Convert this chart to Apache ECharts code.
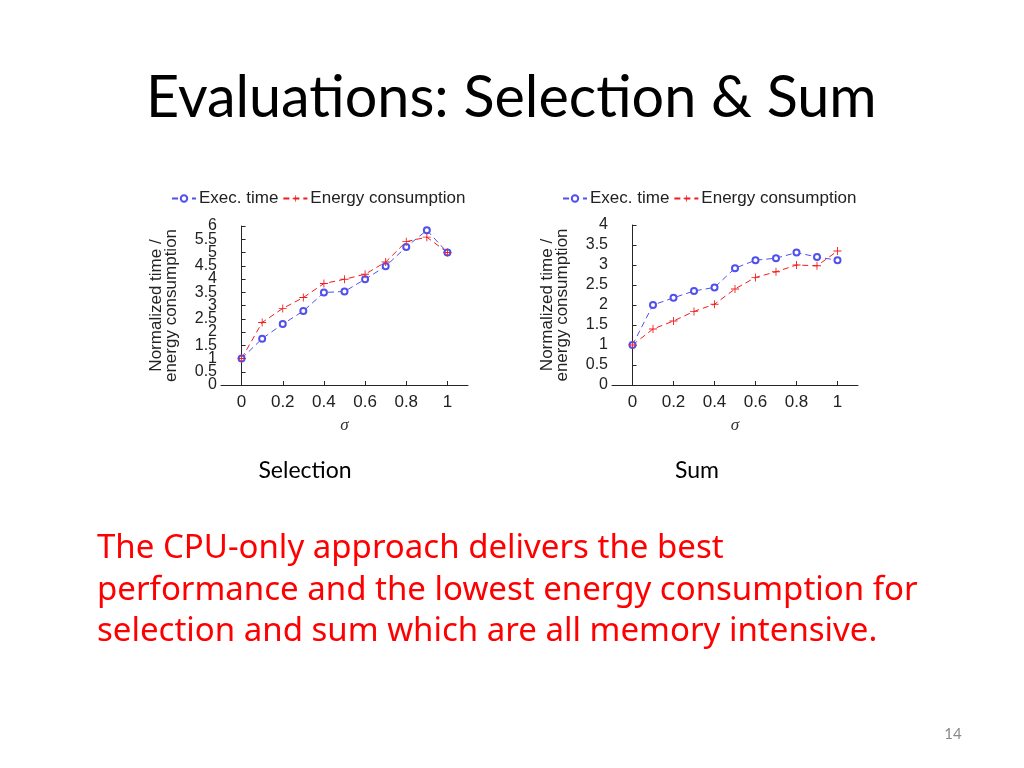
<!DOCTYPE html>
<html><head><meta charset="utf-8">
<script src="https://cdn.jsdelivr.net/npm/echarts@6/dist/echarts.min.js"></script>
<style>html,body{margin:0;padding:0;background:#fff}#c{width:1024px;height:768px}</style>
</head><body><div id="c"></div>
<script>
const sigma = [0, 0.1, 0.2, 0.3, 0.4, 0.5, 0.6, 0.7, 0.8, 0.9, 1.0];
const xTickLabels = [0, 0.2, 0.4, 0.6, 0.8, 1];
const selYTicks = [0, 0.5, 1, 1.5, 2, 2.5, 3, 3.5, 4, 4.5, 5, 5.5, 6];
const sumYTicks = [0, 0.5, 1, 1.5, 2, 2.5, 3, 3.5, 4];
const selExec = [1.0, 1.75, 2.3, 2.79, 3.49, 3.53, 3.99, 4.48, 5.21, 5.84, 5.0];
const selEnergy = [1.0, 2.36, 2.89, 3.3, 3.83, 3.99, 4.18, 4.64, 5.41, 5.58, 5.0];
const sumExec = [1.0, 2.0, 2.18, 2.35, 2.44, 2.92, 3.12, 3.17, 3.31, 3.2, 3.12];
const sumEnergy = [1.0, 1.4, 1.6, 1.84, 2.02, 2.4, 2.69, 2.83, 3.0, 2.98, 3.35];
const seriesNames = ['Exec. time', 'Energy consumption'];
const titleText = 'Evaluations: Selection & Sum';
const captions = ['Selection', 'Sum'];
const bodyLines = ['The CPU-only approach delivers the best', 'performance and the lowest energy consumption for', 'selection and sum which are all memory intensive.'];
const pageNum = '14';

const pair = arr => arr.map((v, i) => [sigma[i], v]);
const plus = 'path://M4.45,0h1.1v4.45h4.45v1.1h-4.45v4.45h-1.1v-4.45h-4.45v-1.1h4.45z';
const axisCol = '#262626';
const font = 'Liberation Sans';
// the dense selection axis: labels split into two alternating sets so none get auto-hidden
const selEven = selYTicks.filter((v, i) => i % 2 === 0);
const selOdd = selYTicks.filter((v, i) => i % 2 === 1);

function xAx(gi) {
  return {
    type: 'value', gridIndex: gi, min: -0.1, max: 1.1,
    name: 'σ', nameLocation: 'middle', nameGap: 32,
    nameTextStyle: {fontFamily: 'Liberation Serif', fontStyle: 'italic', fontSize: 17, color: '#333'},
    axisLine: {lineStyle: {color: axisCol, width: 1}},
    axisTick: {show: true, inside: true, length: 4, lineStyle: {color: axisCol}, customValues: xTickLabels},
    axisLabel: {customValues: xTickLabels, fontFamily: font, fontSize: 17, color: '#222', margin: 9},
    splitLine: {show: false}
  };
}
function yAx(gi, max, ticks, labels) {
  return {
    type: 'value', gridIndex: gi, min: 0, max: max, interval: 0.5, position: 'left',
    name: 'Normalized time /\nenergy consumption', nameLocation: 'middle', nameGap: 42,
    nameTextStyle: {fontFamily: font, fontSize: 17, color: '#222', lineHeight: 15},
    axisLine: {show: true, lineStyle: {color: axisCol, width: 1}},
    axisTick: {show: true, inside: true, length: 4, lineStyle: {color: axisCol}, customValues: ticks},
    axisLabel: {customValues: labels, fontFamily: font, fontSize: 16, color: '#222', margin: 4,
      hideOverlap: false, showMinLabel: true, showMaxLabel: true},
    splitLine: {show: false}
  };
}
function ser(name, gi, yi, data, color, symbol, size) {
  return {
    name: name, type: 'line', xAxisIndex: gi, yAxisIndex: yi, data: pair(data),
    symbol: symbol, symbolSize: size, showAllSymbol: true,
    lineStyle: {color: color, width: 1, type: [6, 4]},
    itemStyle: symbol === 'emptyCircle' ? {color: color, borderColor: color, borderWidth: 1} : {color: color, borderWidth: 0},
    color: color, animation: false
  };
}
function legend(left) {
  return {
    left: left, top: 185, itemWidth: 24, itemHeight: 8, itemGap: 4,
    data: seriesNames.map(n => ({name: n})),
    textStyle: {fontFamily: font, fontSize: 17, color: '#222', padding: [0, 0, 0, -2]},
    selectedMode: false
  };
}
const blue = '#5050ee', red = '#f01c1c';
const selOddAxis = {
  type: 'value', gridIndex: 0, min: 0, max: 6, interval: 0.5, position: 'left', offset: 0,
  axisLine: {show: false}, axisTick: {show: false}, splitLine: {show: false},
  axisLabel: {customValues: selOdd, fontFamily: font, fontSize: 16, color: '#222', margin: 4,
    hideOverlap: false}
};
const chart = echarts.init(document.getElementById('c'), null, {renderer: 'canvas'});
chart.setOption({
  animation: false,
  grid: [
    {left: 221, top: 226, width: 247, height: 159},
    {left: 612, top: 225, width: 246, height: 160}
  ],
  xAxis: [xAx(0), xAx(1)],
  yAxis: [yAx(0, 6, selYTicks, selEven), yAx(1, 4, sumYTicks, sumYTicks), selOddAxis],
  legend: [legend(166), legend(557)],
  series: [
    ser(seriesNames[0], 0, 0, selExec, blue, 'emptyCircle', 6),
    ser(seriesNames[1], 0, 0, selEnergy, red, plus, 8),
    ser(seriesNames[0], 1, 1, sumExec, blue, 'emptyCircle', 6),
    ser(seriesNames[1], 1, 1, sumEnergy, red, plus, 8)
  ],
  graphic: [
    {type: 'text', x: 146, y: 98, style: {text: titleText, font: '57.5px Lato', fill: '#000', verticalAlign: 'middle'}},
    {type: 'text', x: 305, y: 471, style: {text: captions[0], font: '23px Lato', fill: '#000', align: 'center', verticalAlign: 'middle'}},
    {type: 'text', x: 697, y: 471, style: {text: captions[1], font: '23px Lato', fill: '#000', align: 'center', verticalAlign: 'middle'}},
    {type: 'text', x: 97, y: 549, style: {text: bodyLines[0], font: '33px "Noto Sans"', fill: '#ff0000', verticalAlign: 'middle'}},
    {type: 'text', x: 97, y: 591, style: {text: bodyLines[1], font: '33px "Noto Sans"', fill: '#ff0000', verticalAlign: 'middle'}},
    {type: 'text', x: 97, y: 632, style: {text: bodyLines[2], font: '33px "Noto Sans"', fill: '#ff0000', verticalAlign: 'middle'}},
    {type: 'text', x: 953, y: 734, style: {text: pageNum, font: '15px Lato', fill: '#8a8a8a', align: 'center', verticalAlign: 'middle'}}
  ]
});
</script></body></html>
